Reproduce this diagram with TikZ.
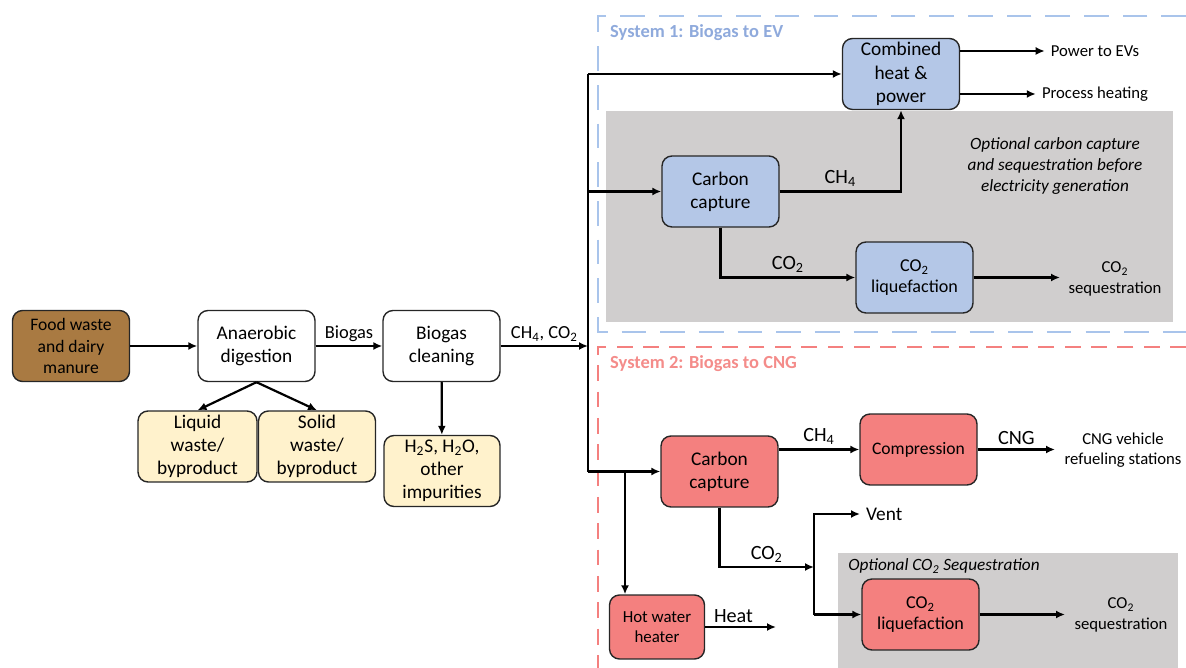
\documentclass[tikz,border=0pt]{standalone}
\usepackage{fontspec}
\setmainfont{Carlito}
\usetikzlibrary{arrows.meta}

\definecolor{feedbrown}{RGB}{169,122,66}
\definecolor{cream}{RGB}{255,242,204}
\definecolor{evblue}{RGB}{180,199,231}
\definecolor{cngred}{RGB}{244,128,127}
\definecolor{optgray}{RGB}{208,206,206}
\definecolor{frameblue}{RGB}{169,196,235}
\definecolor{titleblue}{RGB}{143,170,220}
\definecolor{titlered}{RGB}{244,140,138}

\newcommand{\COtwo}{CO\textsubscript{2}}
\newcommand{\CHfour}{CH\textsubscript{4}}

\begin{document}
\begin{tikzpicture}[x = 0.02cm, y = -0.02cm, > = {Latex[length=1.8mm, width=1.6mm]},
	box/.style = {draw = black!85, line width = 0.8pt, rounded corners = 0.2cm, align = center,
		minimum width = 2.34cm, minimum height = 1.42cm, inner sep = 1pt,
		font = \fontsize{11}{13.2}\selectfont},
	smallbox/.style = {box, font = \fontsize{10.3}{12}\selectfont},
	flow/.style = {->, line width = 1.25pt},
	pipe/.style = {line width = 1.25pt},
	tag/.style = {font = \fontsize{10.5}{12}\selectfont, inner sep = 2pt},
	bigtag/.style = {font = \fontsize{11.5}{13}\selectfont, inner sep = 2pt},
	outtext/.style = {align = center, font = \fontsize{9.5}{11.5}\selectfont}]

	\useasboundingbox (0, 0) rectangle (1186, 668);

	% Optional (gray) areas

	\fill [optgray] (606, 111) rectangle (1173, 322);
	\fill [optgray] (838, 553) rectangle (1178, 668);

	% System frames

	\draw [frameblue, line width = 1.5pt, dash pattern = on 14 off 8] (1186, 16) -- (598, 16) -- (598, 332) -- (1186, 332);
	\draw [cngred, line width = 1.5pt, dash pattern = on 9 off 6] (1186, 347) -- (598, 347) -- (598, 668);

	\node [anchor = west, titleblue, font = \fontsize{10.5}{12}\selectfont\bfseries] (title1) at (604, 33) {System 1: Biogas to EV};
	\node [anchor = west, titlered, font = \fontsize{10.5}{12}\selectfont\bfseries] (title2) at (604, 364) {System 2: Biogas to CNG};

	% Feedstock, digestion and cleaning

	\node [box, fill = feedbrown, font = \fontsize{10}{12}\selectfont] (food) at (71, 346) {Food waste\\and dairy\\manure};
	\node [box] (digest) at (256.5, 346) {Anaerobic\\digestion};
	\node [box] (clean) at (441.5, 346) {Biogas\\cleaning};

	\node [box, fill = cream, minimum width = 2.38cm] (liquid) at (197.5, 446.5) {Liquid\\waste/\\byproduct};
	\node [box, fill = cream] (solid) at (317, 446.5) {Solid\\waste/\\byproduct};
	\node [box, fill = cream, minimum width = 2.32cm] (impur) at (442, 471) {H\textsubscript{2}S, H\textsubscript{2}O,\\other\\impurities};

	\draw [flow] (food) -- (digest);
	\draw [flow] (digest) -- node [tag, above] {Biogas} (clean);
	\draw [flow] (digest.south) -- (liquid.north);
	\draw [flow] (digest.south) -- (solid.north);
	\draw [flow] (clean) -- (impur);

	% Trunk to the two systems

	\coordinate (trunk) at (588, 346);
	\draw [flow] (clean) -- node [tag, above] {\CHfour, \COtwo} (trunk);

	% System 1

	\node [box, fill = evblue] (chp) at (901, 74) {Combined\\heat \&\\power};
	\node [box, fill = evblue] (cc1) at (720.5, 191.5) {Carbon\\capture};
	\node [smallbox, fill = evblue] (liq1) at (914.5, 277.5) {\COtwo\\liquefaction};

	\node [outtext] (evs) at (1095, 51) {Power to EVs};
	\node [outtext] (heating) at (1095, 94) {Process heating};
	\node [outtext, font = \fontsize{9.8}{12.2}\selectfont\itshape] (note1) at (1055, 166) {Optional carbon capture\\and sequestration before\\electricity generation};
	\node [outtext] (seq1) at (1115, 279) {\COtwo\\sequestration};
	\coordinate (seq1in) at (1060, 277.5);

	% System 2 boxes (named here, the trunk ends at cc2)

	\node [box, fill = cngred] (cc2) at (719.5, 471.5) {Carbon\\capture};
	\node [smallbox, fill = cngred, font = \fontsize{10}{12}\selectfont] (comp) at (918.5, 449.5) {Compression};
	\node [smallbox, fill = cngred, font = \fontsize{9.6}{11.5}\selectfont, minimum width = 1.9cm, minimum height = 1.28cm] (hwh) at (657, 627) {Hot water\\heater};
	\node [smallbox, fill = cngred] (liq2) at (920.5, 614.5) {\COtwo\\liquefaction};

	\draw [pipe] (trunk |- chp) -- (trunk |- cc2);
	\draw [flow] (trunk |- chp) -- (chp);
	\draw [flow] (trunk |- cc1) -- (cc1);
	\draw [flow] (cc1) -| node [bigtag, pos = 0.25, above] {\CHfour} (chp);
	\draw [flow] (cc1) |- node [bigtag, pos = 0.75, above] {\COtwo} (liq1);
	\draw [flow] (chp.east |- evs) -- (evs.west);
	\draw [flow] (chp.east |- heating) -- (heating.west);
	\draw [flow] (liq1) -- (seq1in);

	% System 2

	\node [outtext] (cngst) at (1123, 450) {CNG vehicle\\refueling stations};
	\node [outtext, anchor = west, font = \fontsize{11}{13}\selectfont] (vent) at (860, 514) {Vent};
	\node [outtext, font = \fontsize{9.8}{12}\selectfont\itshape] (note2) at (944, 566) {Optional \COtwo{} Sequestration};
	\node [outtext] (seq2) at (1121, 615) {\COtwo\\sequestration};

	\coordinate (split) at (625, 471.5);
	\coordinate (cngout) at (1055, 449.5);
	\coordinate (vsplit) at (814, 567);
	\coordinate (heatout) at (776, 627);
	\coordinate (seq2in) at (1065, 614.5);

	\draw [flow] (trunk |- cc2) -- (cc2);
	\draw [flow] (split) -- (split |- hwh.north);
	\draw [flow] (cc2.east |- comp) -- node [bigtag, above] {\CHfour} (comp);
	\draw [flow] (comp) -- node [bigtag, above] {CNG} (cngout);
	\draw [flow] (cc2) |- node [bigtag, pos = 0.75, above] {\COtwo} (vsplit);
	\draw [flow] (vsplit |- liq2) -- (vsplit |- vent) -- (vent.west);
	\draw [flow] (vsplit |- liq2) -- (liq2);
	\draw [flow] (hwh) -- node [bigtag, pos = 0.4, above] {Heat} (heatout);
	\draw [flow] (liq2) -- (seq2in);

\end{tikzpicture}
\end{document}
